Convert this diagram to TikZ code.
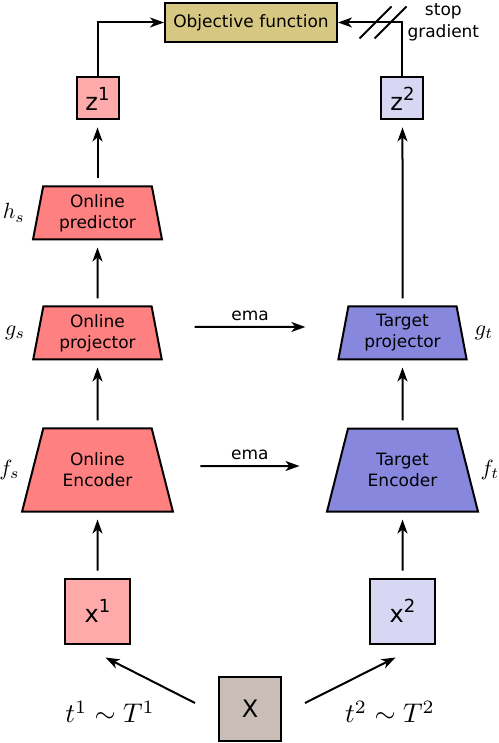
\documentclass[tikz,border=0pt]{standalone}
\usepackage{fontspec}
\setmainfont{DejaVu Sans}
\usepackage{tikz}
\usetikzlibrary{shapes.geometric, arrows.meta, positioning}
\definecolor{mydark}{RGB}{0,0,0}
\definecolor{objtan}{RGB}{214,200,130}
\definecolor{onlred}{RGB}{255,128,128}
\definecolor{tgtblue}{RGB}{135,135,222}
\definecolor{viewred}{RGB}{255,170,170}
\definecolor{viewblue}{RGB}{215,215,244}
\definecolor{imggray}{RGB}{200,190,183}
\newcommand{\boxsup}[1]{\raisebox{10pt}{\fontsize{18}{18}\selectfont #1}}
\newcommand{\bigmath}[2]{\scalebox{#1}{$#2$}}
\tikzset{
  sqbox/.style={rectangle, draw=mydark, line width=2pt,
    minimum size=42pt, inner sep=0pt, font=\fontsize{24}{28}\selectfont},
  objbox/.style={rectangle, draw=mydark, fill=objtan, line width=2pt,
    minimum width=172pt, minimum height=39pt, font=\fontsize{17}{21}\selectfont},
  headnode/.style={trapezium, trapezium stretches=true, trapezium angle=80,
    draw=mydark, line width=2pt, minimum width=129pt, minimum height=53pt,
    align=center, font=\fontsize{17}{21}\selectfont},
  encnode/.style={trapezium, trapezium stretches=true, trapezium angle=70,
    draw=mydark, line width=2pt, minimum width=151pt, minimum height=83pt,
    align=center, font=\fontsize{17}{21}\selectfont},
  lbl/.style={inner sep=2pt},
  arrow/.style={-{Stealth[length=14pt, width=10pt, inset=4pt]}, line width=2pt, color=mydark},
  line/.style={line width=2pt, color=mydark}
}
\begin{document}
\begin{tikzpicture}[x=1pt, y=-1pt, node distance=65pt]
  \useasboundingbox (0,0) rectangle (498,743);

  % Nodes
  \node[sqbox, fill=imggray, minimum width=62pt, minimum height=64pt] (X) at (250,709) {X};
  \node[sqbox, fill=viewred, minimum size=65pt] (x1) at (97.5,611) {x\boxsup{1}};
  \node[sqbox, fill=viewblue, minimum size=65pt] (x2) at (402.5,611) {x\boxsup{2}};
  \node[encnode, fill=onlred, above=of x1] (enc) {Online\\Encoder};
  \node[encnode, fill=tgtblue, above=of x2] (tenc) {Target\\Encoder};
  \node[headnode, fill=onlred, above=67pt of enc] (proj) {Online\\projector};
  \node[headnode, fill=tgtblue, above=67pt of tenc] (tproj) {Target\\projector};
  \node[headnode, fill=onlred, above=of proj] (pred) {Online\\predictor};
  \node[sqbox, fill=viewred, above=of pred] (z1) {z\boxsup{1}};
  \node[sqbox, fill=viewblue] (z2) at (z1 -| tproj) {z\boxsup{2}};
  \node[objbox] (obj) at (251,22.5) {Objective function};
  \node[right=66pt of obj, align=center, font=\fontsize{17}{22}\selectfont] (stop) {stop\\gradient};

  % Labels
  \node[lbl, left=10pt of pred] (hs) {\bigmath{2.2}{h_s}};
  \node[lbl, left=10pt of proj] (gs) {\bigmath{2.2}{g_s}};
  \node[lbl, left=10pt of enc] (fs) {\bigmath{2.2}{f_s}};
  \node[lbl, right=10pt of tproj] (gt) {\bigmath{2.2}{g_t}};
  \node[lbl, right=10pt of tenc] (ft) {\bigmath{2.2}{f_t}};
  \node[lbl, left=61pt of X, yshift=-3pt] (t1) {\bigmath{2.7}{t^1 \sim T^1}};
  \node[lbl, right=61pt of X, yshift=-3pt] (t2) {\bigmath{2.7}{t^2 \sim T^2}};

  % Arrows
  \draw[arrow] ([xshift=-23pt, yshift=6pt]X.west) -- ([xshift=8pt, yshift=-13pt]x1.south);
  \draw[arrow] ([xshift=23pt, yshift=6pt]X.east) -- ([xshift=-7pt, yshift=-13pt]x2.south);
  \draw[arrow, shorten <=7pt, shorten >=7pt] (x1) -- (enc);
  \draw[arrow, shorten <=7pt, shorten >=7pt] (x2) -- (tenc);
  \draw[arrow, shorten <=7pt, shorten >=7pt] (enc) -- (proj);
  \draw[arrow, shorten <=7pt, shorten >=7pt] (tenc) -- (tproj);
  \draw[arrow, shorten <=7pt, shorten >=7pt] (proj) -- (pred);
  \draw[arrow, shorten <=7pt, shorten >=7pt] (pred) -- (z1);
  \draw[arrow, shorten <=7pt, shorten >=7pt] (tproj) -- (z2);
  \draw[arrow, shorten <=37pt, shorten >=37pt] ([yshift=4pt]enc.east) -- node[above=2pt, font=\fontsize{17}{21}\selectfont] (emab) {ema} ([yshift=4pt]tenc.west);
  \draw[arrow, shorten <=37pt, shorten >=37pt] ([yshift=6pt]proj.east) -- node[above=2pt, font=\fontsize{17}{21}\selectfont] (emaa) {ema} ([yshift=6pt]tproj.west);
  \draw[arrow] (z1.north) |- (obj.west);
  \draw[arrow] (z2.north) |- (obj.east);

  % Stop gradient
  \coordinate (sg) at (z2.north |- obj.east);
  \draw[line] ([xshift=-27pt]sg) ++(-16,16) -- ++(32,-32);
  \draw[line] ([xshift=-12pt]sg) ++(-16,16) -- ++(32,-32);
\end{tikzpicture}
\end{document}
